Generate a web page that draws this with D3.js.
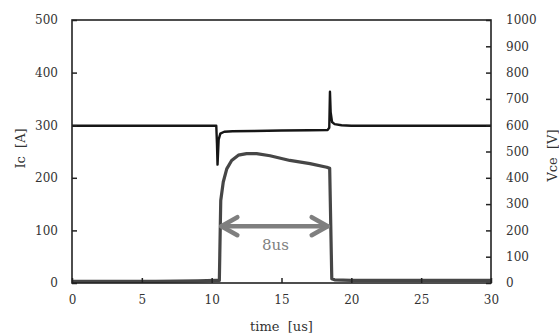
<!DOCTYPE html>
<html>
<head>
<meta charset="utf-8">
<script src="https://cdn.jsdelivr.net/npm/d3@7"></script>
<style>
  body { margin: 0; background: #fff; }
  text { font-family: "DejaVu Serif", "Liberation Serif", serif; }
  .title { white-space: pre; }
</style>
</head>
<body>
<div id="chart"></div>
<script>
// collector current trace
var icTime = [0, 3, 6, 9, 10.3, 10.55, 10.65, 10.83, 11.08, 11.43, 11.91, 12.5, 13.22, 14.18, 15.6, 17.04, 18.24, 18.45, 18.6, 18.8, 20, 25, 30];
var icVals = [3, 3, 3, 4, 5, 5, 157, 192, 217, 233, 243, 246, 246, 242, 233, 227, 220, 218, 8, 6, 5, 5, 5];

// collector-emitter voltage trace
var vTime = [0, 5, 10.33, 10.38, 10.42, 10.5, 10.62, 10.9, 11.5, 13, 15, 17, 18.3, 18.42, 18.47, 18.52, 18.62, 18.8, 19.3, 20, 30];
var vVals = [598, 598, 598, 530, 450, 545, 568, 575, 577, 578, 580, 581, 582, 590, 727, 650, 612, 604, 600, 598, 598];

var xTicks = [0, 5, 10, 15, 20, 25, 30];
var icTicks = [0, 100, 200, 300, 400, 500];
var vTicks = [0, 100, 200, 300, 400, 500, 600, 700, 800, 900, 1000];

// 8us pulse width annotation
var arrowStart = 10.55;
var arrowEnd = 18.45;
var arrowLevel = 108;
var arrowLabel = "8us";

var svgWidth = 559;
var svgHeight = 336;

var margin = { top: 20, right: 68, bottom: 53, left: 72 };
var width = svgWidth - margin.left - margin.right;
var height = svgHeight - margin.top - margin.bottom;

var svg = d3.select("#chart")
    .append("svg")
    .attr("width", svgWidth)
    .attr("height", svgHeight);

var chartGroup = svg.append("g")
    .attr("transform", `translate(${margin.left}, ${margin.top})`);

var xScale = d3.scaleLinear().domain([0, 30]).range([0, width]);
var icScale = d3.scaleLinear().domain([0, 500]).range([height, 0]);
var vScale = d3.scaleLinear().domain([0, 1000]).range([height, 0]);

var fmt = d3.format("d");
var bottomAxis = d3.axisBottom(xScale).tickValues(xTicks).tickFormat(fmt).tickSizeInner(-5).tickSizeOuter(0).tickPadding(12);
var leftAxis = d3.axisLeft(icScale).tickValues(icTicks).tickFormat(fmt).tickSizeInner(-5).tickSizeOuter(0).tickPadding(14);
var rightAxis = d3.axisRight(vScale).tickValues(vTicks).tickFormat(fmt).tickSizeInner(-5).tickSizeOuter(0).tickPadding(15);

// traces
var icLine = d3.line()
    .x((d, i) => xScale(icTime[i]))
    .y(d => icScale(d));

var vLine = d3.line()
    .x((d, i) => xScale(vTime[i]))
    .y(d => vScale(d));

chartGroup.append("path")
    .datum(vVals)
    .attr("d", vLine)
    .attr("fill", "none")
    .attr("stroke", "#161616")
    .attr("stroke-width", 2.4)
    .attr("stroke-linejoin", "round");

chartGroup.append("path")
    .datum(icVals)
    .attr("d", icLine)
    .attr("fill", "none")
    .attr("stroke", "#464646")
    .attr("stroke-width", 3.2)
    .attr("stroke-linejoin", "round");

// axes
function styleAxis(g) {
    g.select(".domain").remove();
    g.selectAll("line").attr("stroke", "#222").attr("stroke-width", 1.5);
    g.selectAll("text").attr("font-size", "12px").attr("fill", "#333")
        .style("font-family", "'DejaVu Serif', serif");
}

chartGroup.append("g")
    .attr("transform", `translate(0, ${height})`)
    .call(bottomAxis)
    .call(styleAxis);

chartGroup.append("g")
    .call(leftAxis)
    .call(styleAxis);

chartGroup.append("g")
    .attr("transform", `translate(${width}, 0)`)
    .call(rightAxis)
    .call(styleAxis);

// frame
chartGroup.append("rect")
    .attr("x", 0)
    .attr("y", 0)
    .attr("width", width)
    .attr("height", height)
    .attr("fill", "none")
    .attr("stroke", "#222")
    .attr("stroke-width", 1.6);

// arrow
var ay = icScale(arrowLevel);
var ax1 = xScale(arrowStart);
var ax2 = xScale(arrowEnd);
var arrowGroup = chartGroup.append("g")
    .attr("stroke", "#7f7f7f")
    .attr("stroke-width", 4.5)
    .attr("stroke-linecap", "round")
    .attr("stroke-linejoin", "round")
    .attr("fill", "none");

arrowGroup.append("line")
    .attr("x1", ax1 + 2).attr("x2", ax2 - 2)
    .attr("y1", ay).attr("y2", ay);

arrowGroup.append("path")
    .attr("d", `M${ax1 + 18},${ay - 9} L${ax1 + 2},${ay} L${ax1 + 18},${ay + 9}`);

arrowGroup.append("path")
    .attr("d", `M${ax2 - 18},${ay - 9} L${ax2 - 2},${ay} L${ax2 - 18},${ay + 9}`);

chartGroup.append("text")
    .attr("x", (ax1 + ax2) / 2 + 1)
    .attr("y", ay + 24)
    .attr("text-anchor", "middle")
    .attr("font-size", "15px")
    .attr("fill", "#808080")
    .text(arrowLabel);

// axis titles
chartGroup.append("text")
    .attr("class", "title")
    .attr("transform", `translate(${width / 2}, ${height + 48})`)
    .attr("text-anchor", "middle")
    .attr("font-size", "13px")
    .attr("fill", "#333")
    .text("time  [us]");

chartGroup.append("text")
    .attr("class", "title")
    .attr("transform", `translate(${-47}, ${height / 2 - 3}) rotate(-90)`)
    .attr("text-anchor", "middle")
    .attr("font-size", "13px")
    .attr("fill", "#333")
    .text("Ic  [A]");

chartGroup.append("text")
    .attr("class", "title")
    .attr("transform", `translate(${width + 66}, ${height / 2 + 4}) rotate(-90)`)
    .attr("text-anchor", "middle")
    .attr("font-size", "13px")
    .attr("fill", "#333")
    .text("Vce  [V]");
</script>
</body>
</html>
